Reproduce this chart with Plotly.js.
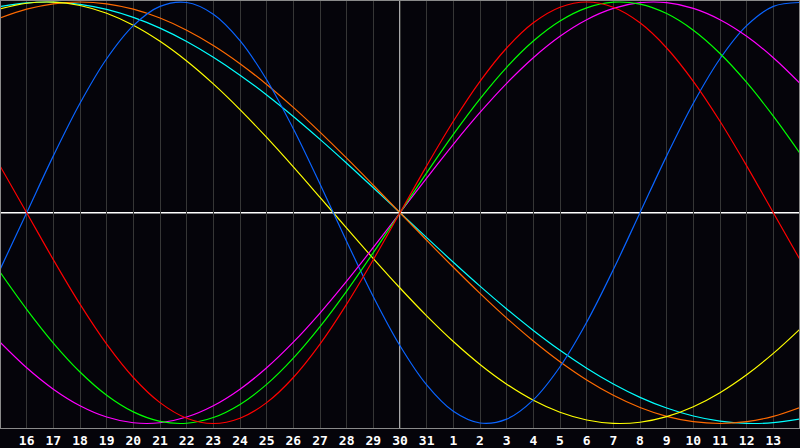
<!DOCTYPE html>
<html>
<head>
<meta charset="utf-8">
<script src="https://cdn.plot.ly/plotly-3.0.1.min.js"></script>
<style>
html,body{margin:0;padding:0;background:#05040a;}
#chart{width:800px;height:448px;}
</style>
</head>
<body>
<div id="chart"></div>
<script>
// day index 0..30 along the x axis
const dayIndex = [0,1,2,3,4,5,6,7,8,9,10,11,12,13,14,15,16,17,18,19,20,21,22,23,24,25,26,27,28,29,30];
// labelled tick positions and texts
const tickIndex = [1,2,3,4,5,6,7,8,9,10,11,12,13,14,15,16,17,18,19,20,21,22,23,24,25,26,27,28,29];
const tickLabels = ["16","17","18","19","20","21","22","23","24","25","26","27","28","29","30","31","1","2","3","4","5","6","7","8","9","10","11","12","13"];

const redValues = [0.2225,0,-0.2225,-0.4339,-0.6235,-0.7818,-0.9010,-0.9749,-1,-0.9749,-0.9010,-0.7818,-0.6235,-0.4339,-0.2225,0,0.2225,0.4339,0.6235,0.7818,0.9010,0.9749,1,0.9749,0.9010,0.7818,0.6235,0.4339,0.2225,0,-0.2225];
const greenValues = [-0.2817,-0.4582,-0.6182,-0.7557,-0.8660,-0.9450,-0.9898,-0.9989,-0.9718,-0.9096,-0.8146,-0.6901,-0.5406,-0.3717,-0.1893,0,0.1893,0.3717,0.5406,0.6901,0.8146,0.9096,0.9718,0.9989,0.9898,0.9450,0.8660,0.7557,0.6182,0.4582,0.2817];
const magentaValues = [-0.6142,-0.7357,-0.8372,-0.9158,-0.9694,-0.9966,-0.9966,-0.9694,-0.9158,-0.8372,-0.7357,-0.6142,-0.4759,-0.3247,-0.1646,0,0.1646,0.3247,0.4759,0.6142,0.7357,0.8372,0.9158,0.9694,0.9966,0.9966,0.9694,0.9158,0.8372,0.7357,0.6142];
const orangeValues = [0.9239,0.9659,0.9914,1,0.9914,0.9659,0.9239,0.8660,0.7934,0.7071,0.6088,0.5,0.3827,0.2588,0.1305,0,-0.1305,-0.2588,-0.3827,-0.5,-0.6088,-0.7071,-0.7934,-0.8660,-0.9239,-0.9659,-0.9914,-1,-0.9914,-0.9659,-0.9239];
const cyanValues = [0.9786,0.9960,0.9996,0.9890,0.9646,0.9267,0.8759,0.8126,0.7378,0.6528,0.5586,0.4566,0.3482,0.2349,0.1183,0,-0.1183,-0.2349,-0.3482,-0.4566,-0.5586,-0.6528,-0.7378,-0.8126,-0.8759,-0.9267,-0.9646,-0.9890,-0.9996,-0.9960,-0.9786];
const blueValues = [-0.2698,0,0.2698,0.5196,0.7308,0.8879,0.9791,0.9977,0.9423,0.8170,0.6311,0.3984,0.1362,-0.1362,-0.3984,-0.6311,-0.8170,-0.9423,-0.9977,-0.9791,-0.8879,-0.7308,-0.5196,-0.2698,0,0.2698,0.5196,0.7308,0.8879,0.9791,0.9977];
const yellowValues = [0.9675,0.9940,0.9993,0.9834,0.9465,0.8894,0.8133,0.7199,0.6112,0.4894,0.3572,0.2174,0.0730,-0.0730,-0.2174,-0.3572,-0.4894,-0.6112,-0.7199,-0.8133,-0.8894,-0.9465,-0.9834,-0.9993,-0.9940,-0.9675,-0.9204,-0.8536,-0.7687,-0.6674,-0.5518];

const todayIndex = 15;

const series = [
  {name:"cyan", y:cyanValues, color:"#00ffff"},
  {name:"orange", y:orangeValues, color:"#ff6a00"},
  {name:"yellow", y:yellowValues, color:"#ffff00"},
  {name:"blue", y:blueValues, color:"#0a64ff"},
  {name:"magenta", y:magentaValues, color:"#ff00ff"},
  {name:"green", y:greenValues, color:"#00ff00"},
  {name:"red", y:redValues, color:"#ff0000"}
];

const traces = series.map(s => ({
  type:"scatter", mode:"lines", x:dayIndex, y:s.y, name:s.name,
  line:{color:s.color, width:1.2, shape:"spline", smoothing:1},
  hoverinfo:"skip", showlegend:false
}));

const layout = {
  width:800, height:448,
  margin:{l:1, r:1, t:1, b:20, pad:0},
  paper_bgcolor:"#05040a", plot_bgcolor:"#05040a",
  showlegend:false,
  xaxis:{
    range:[0.0375, 29.9625], tickmode:"array", tickvals:tickIndex, ticktext:tickLabels,
    showgrid:true, gridcolor:"#363636", gridwidth:1, zeroline:false,
    showline:true, linecolor:"#8a8a8a", linewidth:1, mirror:true,
    ticks:"", ticklen:0,
    tickfont:{family:"DejaVu Sans Mono", size:13, color:"#ffffff", weight:"bold"}
  },
  yaxis:{
    range:[-1.0214, 1.0047], showgrid:false, zeroline:false, showticklabels:false,
    showline:true, linecolor:"#8a8a8a", linewidth:1, mirror:true, ticks:""
  },
  shapes:[
    {type:"line", xref:"paper", x0:0, x1:1, yref:"y", y0:0, y1:0, line:{color:"#ffffff", width:1.3}, layer:"below"},
    {type:"line", xref:"x", x0:todayIndex, x1:todayIndex, yref:"paper", y0:0, y1:1, line:{color:"#ffffff", width:1.3}, layer:"below"}
  ]
};

Plotly.newPlot("chart", traces, layout, {staticPlot:true, displayModeBar:false});
</script>
</body>
</html>
